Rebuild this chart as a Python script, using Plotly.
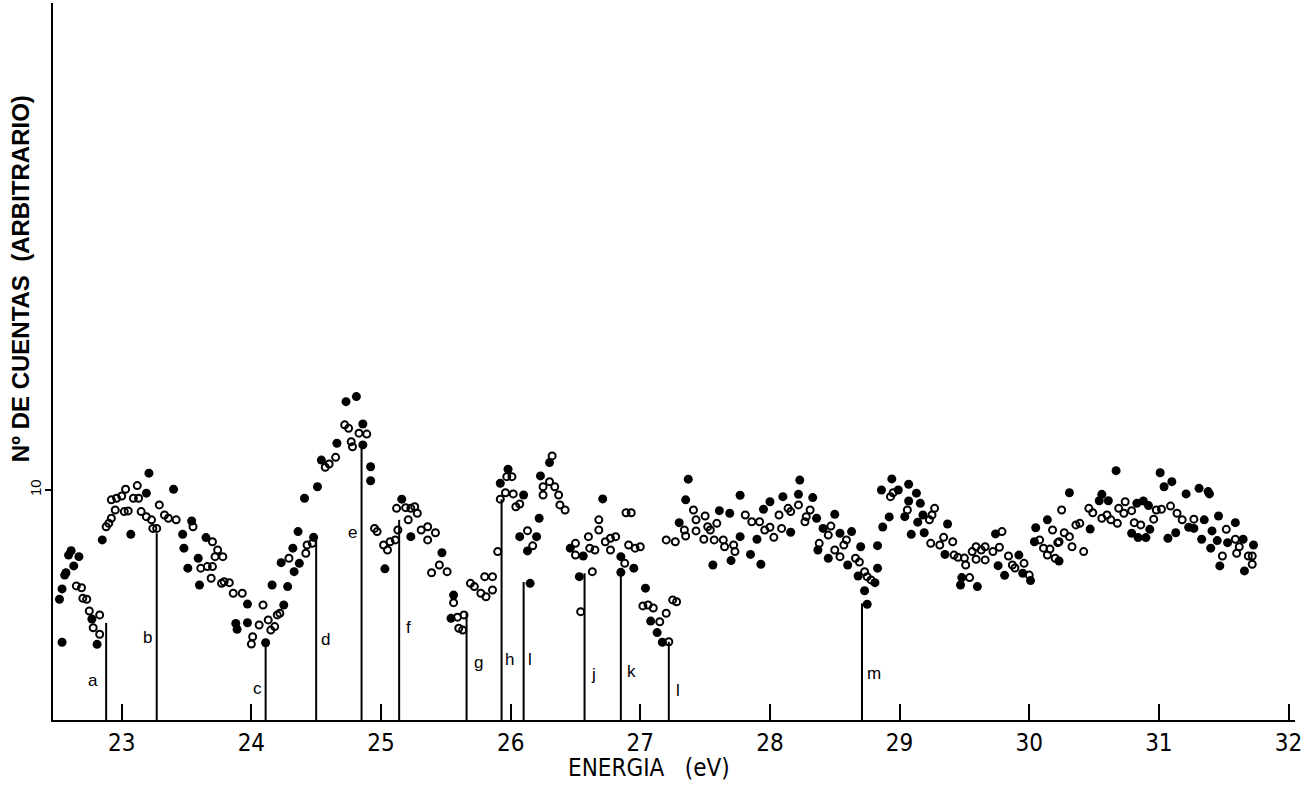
import plotly.graph_objects as go

# ---- data (energy in eV, counts in arbitrary units) ----
filled_E = [22.54, 22.52, 22.54, 22.56, 22.57, 22.63, 22.59, 22.61, 22.67, 22.77, 22.81, 22.85,
            23.07, 23.19, 23.21, 23.40, 23.54, 23.47, 23.48, 23.65, 23.59, 23.51, 23.60, 23.97,
            23.88, 23.89, 23.97, 24.11, 24.16, 24.28, 24.25, 24.23, 24.32, 24.37, 24.33, 24.48,
            24.36, 24.41, 24.51, 24.54, 24.66, 24.73, 24.81, 24.86, 24.86, 24.92, 24.92, 25.03,
            25.16, 25.23, 25.47, 25.56, 25.54, 26.10, 25.92, 25.98, 26.07, 26.20, 26.13, 26.22,
            26.15, 26.23, 26.30, 26.46, 26.56, 26.71, 26.53, 26.85, 26.85, 26.95, 27.04, 27.08,
            27.13, 27.17, 27.37, 27.35, 27.30, 27.61, 27.69, 27.56, 27.70, 27.77, 27.77, 27.85,
            27.90, 27.93, 27.95, 28.00, 28.10, 28.16, 28.22, 28.23, 28.33, 28.36, 28.41, 28.50,
            28.54, 28.63, 28.37, 28.45, 28.60, 28.70, 28.68, 28.73, 28.75, 28.83, 28.83, 28.81,
            28.87, 28.92, 28.86, 28.94, 28.99, 29.07, 29.13, 29.07, 29.16, 29.04, 29.18, 29.14,
            29.09, 29.19, 29.37, 29.35, 29.48, 29.47, 29.60, 29.74, 29.76, 29.81, 29.92, 29.95,
            30.01, 30.04, 30.05, 30.14, 30.23, 30.31, 30.47, 30.56, 30.54, 30.61, 30.67, 30.83,
            30.88, 30.92, 30.79, 30.84, 30.90, 30.93, 31.07, 31.13, 31.01, 31.04, 31.10, 31.21,
            31.23, 31.27, 31.31, 31.38, 31.39, 31.35, 31.46, 31.41, 31.33, 31.59, 31.45, 31.40,
            31.47, 31.53, 31.65, 31.73, 31.66]
filled_C = [3.38, 5.25, 5.70, 6.30, 6.40, 6.70, 7.17, 7.36, 7.10, 4.39, 3.29, 7.83,
            8.07, 9.86, 10.73, 10.03, 8.65, 8.07, 7.47, 7.93, 7.03, 6.60, 5.87, 5.04,
            4.20, 3.94, 4.23, 3.36, 5.87, 5.80, 5.00, 6.84, 7.47, 6.81, 6.45, 7.94,
            8.19, 9.64, 10.14, 11.30, 12.03, 13.84, 14.06, 12.87, 11.96, 11.01, 10.40, 6.57,
            9.60, 7.97, 7.27, 5.43, 4.42, 9.78, 10.29, 10.90, 7.97, 7.97, 7.35, 8.77,
            5.94, 10.61, 11.19, 7.47, 7.13, 9.61, 6.23, 7.10, 6.42, 6.60, 5.73, 4.30,
            3.80, 3.38, 10.47, 9.57, 8.58, 9.10, 8.99, 6.74, 6.93, 7.97, 9.77, 7.20,
            7.86, 6.77, 9.16, 9.49, 9.71, 8.16, 9.81, 10.43, 9.67, 8.77, 8.33, 8.94,
            8.12, 8.19, 7.39, 7.03, 6.74, 7.53, 6.26, 5.62, 5.03, 7.58, 6.60, 5.97,
            8.39, 8.83, 10.00, 10.48, 10.00, 10.25, 9.86, 9.52, 9.42, 8.84, 8.91, 8.60,
            8.07, 8.14, 8.52, 7.20, 6.19, 5.87, 5.80, 8.09, 6.71, 6.29, 7.17, 6.38,
            6.06, 7.75, 8.36, 8.70, 6.91, 9.88, 8.30, 9.81, 9.53, 9.53, 10.84, 9.42,
            9.52, 9.32, 8.12, 7.93, 7.93, 8.29, 7.90, 8.14, 10.75, 10.14, 10.36, 9.83,
            8.38, 8.33, 10.07, 9.93, 9.83, 8.70, 8.87, 8.22, 7.86, 8.58, 7.80, 7.47,
            6.70, 7.71, 7.86, 7.61, 6.48]

open_E = [22.65, 22.69, 22.70, 22.73, 22.75, 22.83, 22.78, 22.83, 22.88, 22.90, 22.92, 22.92,
          22.95, 22.96, 23.00, 23.03, 23.02, 23.05, 23.09, 23.12, 23.13, 23.15, 23.19, 23.23,
          23.24, 23.27, 23.29, 23.33, 23.36, 23.42, 23.55, 23.70, 23.74, 23.72, 23.78, 23.61,
          23.66, 23.70, 23.69, 23.77, 23.79, 23.83, 23.86, 23.93, 24.01, 24.00, 24.09, 24.06,
          24.13, 24.15, 24.18, 24.20, 24.22, 24.29, 24.42, 24.43, 24.47, 24.57, 24.60, 24.65,
          24.77, 24.78, 24.72, 24.75, 24.83, 24.89, 24.95, 24.97, 25.02, 25.05, 25.07, 25.11,
          25.13, 25.12, 25.19, 25.23, 25.26, 25.21, 25.28, 25.31, 25.36, 25.42, 25.36, 25.39,
          25.45, 25.51, 25.56, 25.59, 25.60, 25.64, 25.63, 25.69, 25.72, 25.77, 25.81, 25.86,
          25.80, 25.86, 25.90, 25.92, 25.96, 26.02, 26.04, 26.07, 25.97, 26.01, 26.13, 26.17,
          26.25, 26.25, 26.30, 26.34, 26.37, 26.38, 26.42, 26.32, 26.50, 26.50, 26.60, 26.65,
          26.61, 26.68, 26.68, 26.63, 26.54, 26.73, 26.77, 26.81, 26.77, 26.89, 26.93, 26.88,
          26.91, 26.96, 27.00, 27.02, 27.06, 27.10, 27.15, 27.20, 27.25, 27.28, 27.22, 27.20,
          27.27, 27.41, 27.34, 27.35, 27.43, 27.43, 27.50, 27.49, 27.52, 27.54, 27.59, 27.57,
          27.64, 27.65, 27.72, 27.73, 27.81, 27.86, 27.92, 27.96, 28.00, 28.03, 28.07, 28.09,
          28.14, 28.16, 28.22, 28.28, 28.27, 28.31, 28.47, 28.45, 28.59, 28.57, 28.38, 28.50,
          28.54, 28.66, 28.69, 28.73, 28.75, 28.78, 28.93, 28.95, 29.06, 29.27, 29.25, 29.23,
          29.24, 29.31, 29.34, 29.41, 29.42, 29.45, 29.51, 29.50, 29.54, 29.56, 29.59, 29.63,
          29.66, 29.59, 29.66, 29.72, 29.79, 29.77, 29.84, 29.87, 29.89, 29.96, 30.00, 30.08,
          30.11, 30.16, 30.14, 30.22, 30.18, 30.25, 30.20, 30.27, 30.31, 30.23, 30.33, 30.42,
          30.39, 30.36, 30.46, 30.49, 30.56, 30.60, 30.63, 30.68, 30.69, 30.74, 30.73, 30.79,
          30.81, 30.86, 30.96, 30.98, 31.02, 31.09, 31.14, 31.18, 31.27, 31.52, 31.49, 31.59,
          31.62, 31.60, 31.69, 31.72, 31.72]
open_C = [5.83, 5.75, 5.29, 5.25, 4.74, 4.57, 4.01, 3.73, 8.40, 8.55, 8.77, 9.57,
          9.13, 9.64, 9.74, 10.03, 9.06, 9.09, 9.64, 10.19, 9.64, 9.06, 8.84, 8.70,
          8.33, 8.33, 9.35, 8.91, 8.77, 8.70, 8.40, 7.75, 7.39, 7.10, 7.10, 6.60,
          6.67, 6.67, 6.16, 5.94, 6.01, 5.97, 5.51, 5.51, 3.62, 3.30, 5.00, 4.13,
          4.35, 3.91, 4.06, 4.57, 4.64, 7.03, 7.25, 7.61, 7.68, 10.99, 11.13, 11.42,
          12.10, 11.88, 12.83, 12.68, 12.47, 12.43, 8.33, 8.19, 7.61, 7.39, 7.75, 7.83,
          8.26, 9.20, 9.23, 9.20, 9.27, 8.70, 8.99, 8.26, 8.40, 8.14, 7.83, 6.40,
          6.74, 6.45, 5.10, 4.47, 3.99, 4.57, 3.91, 5.94, 5.80, 5.51, 5.36, 5.65,
          6.23, 6.23, 7.32, 9.60, 9.88, 9.83, 9.27, 9.39, 10.58, 10.58, 8.23, 7.57,
          10.14, 9.78, 10.36, 10.14, 9.78, 9.35, 9.13, 11.48, 7.68, 7.17, 7.97, 7.39,
          7.47, 8.70, 8.26, 6.45, 4.71, 7.75, 7.90, 7.97, 7.39, 9.01, 9.01, 6.81,
          7.61, 7.47, 7.53, 4.96, 5.00, 4.87, 4.27, 4.64, 5.22, 5.14, 3.40, 7.83,
          7.75, 9.13, 8.26, 8.00, 8.70, 8.22, 8.87, 7.86, 8.40, 8.26, 8.55, 7.83,
          7.83, 7.53, 7.61, 7.32, 8.91, 8.62, 8.62, 8.26, 8.38, 7.94, 8.91, 8.33,
          9.20, 9.06, 9.35, 8.84, 8.62, 9.13, 8.43, 8.04, 7.83, 7.61, 7.68, 7.39,
          7.10, 7.03, 6.87, 6.45, 6.23, 6.09, 9.71, 9.88, 9.13, 9.20, 8.91, 8.70,
          7.68, 7.61, 7.94, 7.75, 7.17, 7.07, 6.74, 7.04, 6.19, 7.32, 7.53, 7.39,
          7.53, 6.99, 6.96, 7.32, 8.19, 7.51, 7.13, 6.74, 6.61, 6.81, 6.30, 7.83,
          7.47, 7.43, 7.17, 7.71, 8.26, 9.13, 7.03, 8.14, 7.97, 7.75, 7.53, 7.32,
          8.55, 8.48, 9.20, 9.01, 8.77, 8.91, 8.70, 8.55, 9.20, 9.49, 8.99, 9.10,
          8.58, 8.48, 8.73, 9.13, 9.16, 9.30, 8.99, 8.70, 8.73, 8.29, 7.13, 7.86,
          7.53, 7.25, 7.13, 7.13, 6.77]

# marked transitions
line_E = [22.88, 23.27, 24.11, 24.50, 24.85, 25.14, 25.66, 25.93, 26.10, 26.57, 26.85, 27.22, 28.71]
line_top = [4.22, 8.12, 3.35, 7.96, 11.96, 8.70, 4.65, 9.60, 6.00, 6.38, 6.45, 3.40, 5.07]
label_E = [22.78, 23.20, 24.05, 24.57, 24.78, 25.21, 25.75, 25.99, 26.15, 26.64, 26.93, 27.29, 28.80]
label_C = [1.70, 3.57, 1.39, 3.48, 8.13, 4.00, 2.48, 2.61, 2.65, 1.96, 2.09, 1.30, 2.04]
label_text = ["a", "b", "c", "d", "e", "f", "g", "h", "l", "j", "k", "l", "m"]

x_ticks = [23, 24, 25, 26, 27, 28, 29, 30, 31, 32]
y_ticks = [10]

NARROW = "DejaVu Sans Condensed, Liberation Sans Narrow, Roboto Condensed, sans-serif"

fig = go.Figure()
fig.add_trace(go.Scatter(x=filled_E, y=filled_C, mode="markers",
                         marker=dict(symbol="circle", size=9, color="black"),
                         showlegend=False, hoverinfo="skip"))
fig.add_trace(go.Scatter(x=open_E, y=open_C, mode="markers",
                         marker=dict(symbol="circle-open", size=7, color="black",
                                     line=dict(width=2, color="black")),
                         showlegend=False, hoverinfo="skip"))

shapes = []
for e, top in zip(line_E, line_top):
    shapes.append(dict(type="line", xref="x", yref="y", x0=e, x1=e, y0=0, y1=top,
                       line=dict(color="black", width=2)))

annotations = []
for e, c, t in zip(label_E, label_C, label_text):
    annotations.append(dict(x=e, y=c, xref="x", yref="y", text=t, showarrow=False,
                            font=dict(family="Liberation Sans, Arial, sans-serif", size=17, color="black")))

annotations.append(dict(x=0.48, y=-0.067, xref="paper", yref="paper", text="ENERGIA   (eV)",
                        showarrow=False, yanchor="middle", borderpad=0,
                        font=dict(family=NARROW, size=24, color="black")))
annotations.append(dict(x=-0.0265, y=0.615, xref="paper", yref="paper",
                        text="<b>N\u00ba DE CUENTAS  (ARBITRARIO)</b>", textangle=-90, showarrow=False,
                        xanchor="center", yanchor="middle",
                        font=dict(family="Liberation Sans, Arial, sans-serif", size=24, color="black")))

fig.update_layout(
    width=1305, height=787,
    margin=dict(l=53, r=7, t=3, b=67),
    paper_bgcolor="white", plot_bgcolor="white",
    shapes=shapes, annotations=annotations,
    xaxis=dict(range=[22.47, 32.05], tickvals=x_ticks, ticktext=[str(v) for v in x_ticks],
               ticks="inside", ticklen=16, tickwidth=2, tickcolor="black",
               ticklabeloverflow="allow",
               showline=True, linewidth=2, linecolor="black", showgrid=False, zeroline=False,
               tickfont=dict(family=NARROW, size=24, color="black")),
    yaxis=dict(range=[0, 31.17], tickvals=y_ticks, ticktext=["10"], tickangle=-90,
               ticks="outside", ticklen=6, tickwidth=2, tickcolor="black",
               showline=True, linewidth=2, linecolor="black", showgrid=False, zeroline=False,
               ticklabelstandoff=-2,
               tickfont=dict(family="Liberation Sans, Arial, sans-serif", size=15, color="black")),
)

fig.write_html("out.html")
